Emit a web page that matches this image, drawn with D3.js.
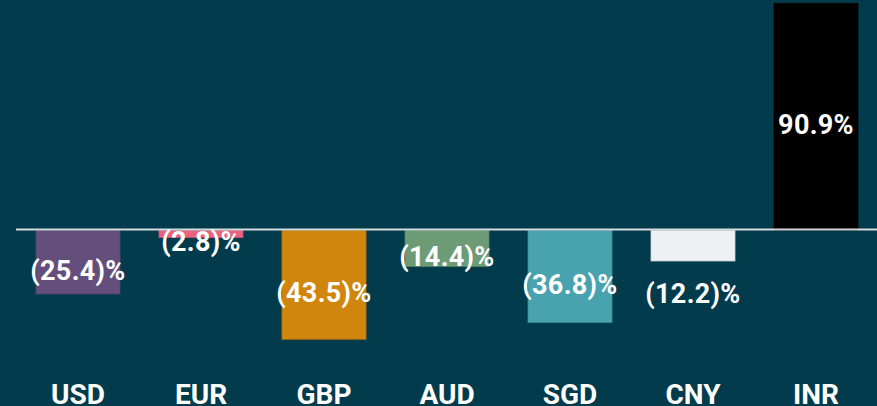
<!DOCTYPE html>
<html>
<head>
<meta charset="utf-8">
<script src="https://cdn.jsdelivr.net/npm/d3@7"></script>
<style>
  html, body { margin: 0; padding: 0; background: #023b4c; }
  svg { display: block; }
</style>
</head>
<body>
<div class="chart"></div>
<script>
var currencies = ["USD", "EUR", "GBP", "AUD", "SGD", "CNY", "INR"];
var changes = [-25.4, -2.8, -43.5, -14.4, -36.8, -12.2, 90.9];
var colors = ["#644e7c", "#e9637f", "#d0860c", "#6c9b76", "#48a3ae", "#edf1f4", "#000000"];

var width = 877,
  height = 406;

var svg = d3.select(".chart").append("svg")
  .attr("width", width)
  .attr("height", height);

var x = d3.scaleBand()
  .domain(currencies)
  .range([16.5, 877.5])
  .paddingInner(0.317)
  .paddingOuter(0.1585);

// zero sits at 230, the tallest bar reaches the top
var y = d3.scaleLinear()
  .domain([0, d3.max(changes)])
  .range([230.5, 3.3]);

var rows = currencies.map(function(c, i) {
  return { name: c, value: changes[i], color: colors[i] };
});

svg.selectAll("rect.bar")
  .data(rows)
  .enter().append("rect")
  .attr("class", "bar")
  .attr("x", function(d) { return x(d.name); })
  .attr("width", x.bandwidth())
  .attr("y", function(d) { return Math.min(y(d.value), y(0)); })
  .attr("height", function(d) { return Math.abs(y(d.value) - y(0)); })
  .style("fill", function(d) { return d.color; })
  .style("stroke", function(d) { return d3.color(d.color).darker(0.4); })
  .style("stroke-width", 0.8);

// zero line
svg.append("line")
  .attr("x1", 16)
  .attr("x2", width)
  .attr("y1", y(0) - 1)
  .attr("y2", y(0) - 1)
  .style("stroke", "#d3dbe0")
  .style("stroke-width", 2);

function fmt(v) {
  return v < 0 ? "(" + Math.abs(v).toFixed(1) + ")%" : v.toFixed(1) + "%";
}

// value labels sit in the middle of the bar, light bars get theirs below
svg.selectAll("text.val")
  .data(rows)
  .enter().append("text")
  .attr("class", "val")
  .attr("x", function(d) { return x(d.name) + x.bandwidth() / 2; })
  .attr("y", function(d) {
    var mid = (y(d.value) + y(0)) / 2;
    if (d3.hsl(d.color).l > 0.85) return y(d.value) + 42;
    return mid + 17.5;
  })
  .attr("text-anchor", "middle")
  .style("font-family", "Roboto, sans-serif")
  .style("font-weight", "bold")
  .style("font-size", "27px")
  .style("letter-spacing", "0.3px")
  .style("fill", "#ffffff")
  .text(function(d) { return fmt(d.value); });

// category labels
svg.selectAll("text.cat")
  .data(currencies)
  .enter().append("text")
  .attr("class", "cat")
  .attr("x", function(d) { return x(d) + x.bandwidth() / 2; })
  .attr("y", 404)
  .attr("text-anchor", "middle")
  .style("font-family", "Roboto, sans-serif")
  .style("font-weight", "bold")
  .style("font-size", "28px")
  .style("fill", "#ffffff")
  .text(function(d) { return d; });
</script>
</body>
</html>
